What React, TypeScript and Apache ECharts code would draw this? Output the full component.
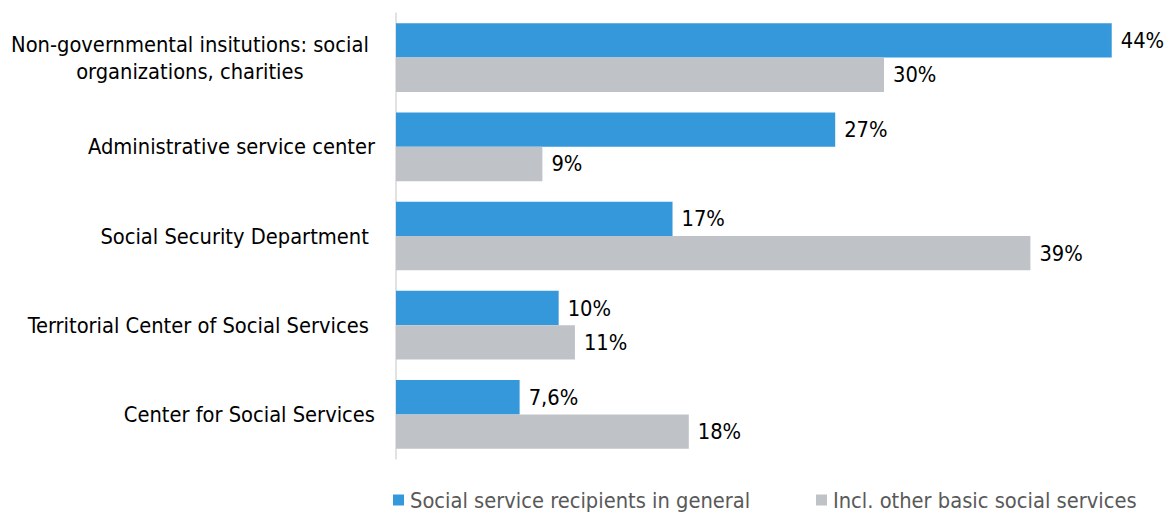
import React, { useEffect, useRef } from "react";
import * as echarts from "echarts";

const categories = [
  "Non-governmental insitutions: social \norganizations, charities ",
  "Administrative service center",
  "Social Security Department ",
  "Territorial Center of Social Services ",
  "Center for Social Services",
];
const seriesNames = [
  "Social service recipients in general",
  "Incl. other basic social services",
];
const generalValues = [44, 27, 17, 10, 7.6];
const basicValues = [30, 9, 39, 11, 18];

const FONT = "'DejaVu Sans Condensed', 'DejaVu Sans', Verdana, sans-serif";
const FS = 21.7;
const BLUE = "#3598db";
const GRAY = "#bfc3c7";

const fmtPct = (p: any) => String(p.value).replace(".", ",") + "%";

export default function App() {
  const ref = useRef<HTMLDivElement>(null);
  useEffect(() => {
    if (!ref.current) return;
    const chart = echarts.init(ref.current, null, { renderer: "svg" });
    const labelStyle = {
      show: true,
      position: "right" as const,
      distance: 9,
      fontSize: FS,
      fontFamily: FONT,
      color: "#000",
      formatter: fmtPct,
    };
    const legendBase = {
      top: 489,
      padding: 0,
      itemWidth: 11,
      itemHeight: 11,
      itemGap: 0,
      icon: "rect",
      textStyle: { fontSize: FS, color: "#595959", fontFamily: FONT, padding: [0, 0, 0, 1] },
    };
    chart.setOption({
      animation: false,
      backgroundColor: "#ffffff",
      textStyle: { fontFamily: FONT },
      grid: { left: 396, right: 45, top: 13, bottom: 53, containLabel: false },
      legend: [
        { ...legendBase, data: [seriesNames[0]], left: 393 },
        { ...legendBase, data: [seriesNames[1]], left: 816 },
      ],
      xAxis: {
        type: "value",
        min: 0,
        max: 45,
        show: false,
        splitLine: { show: false },
      },
      yAxis: {
        type: "category",
        inverse: true,
        data: categories,
        axisLine: { show: true, lineStyle: { color: "#d9d9d9", width: 1.5 } },
        axisTick: { show: false },
        axisLabel: {
          margin: 21,
          fontSize: FS,
          color: "#000",
          fontFamily: FONT,
          lineHeight: 27,
          formatter: (v: string) =>
            v
              .split("\n")
              .map((l) => `{c|${l}}`)
              .join("\n"),
          rich: {
            c: {
              align: "center",
              fontSize: FS,
              lineHeight: 27,
              color: "#000",
              fontFamily: FONT,
            },
          },
        },
      },
      series: [
        {
          name: seriesNames[0],
          type: "bar",
          data: generalValues,
          barGap: "0%",
          barCategoryGap: "23%",
          itemStyle: { color: BLUE },
          label: labelStyle,
        },
        {
          name: seriesNames[1],
          type: "bar",
          data: basicValues,
          barGap: "0%",
          barCategoryGap: "23%",
          itemStyle: { color: GRAY },
          label: labelStyle,
        },
      ],
    });
    return () => chart.dispose();
  }, []);
  return (
    <div
      ref={ref}
      style={{ position: "fixed", left: 0, top: 0, width: 1173, height: 512, background: "#fff" }}
    />
  );
}
